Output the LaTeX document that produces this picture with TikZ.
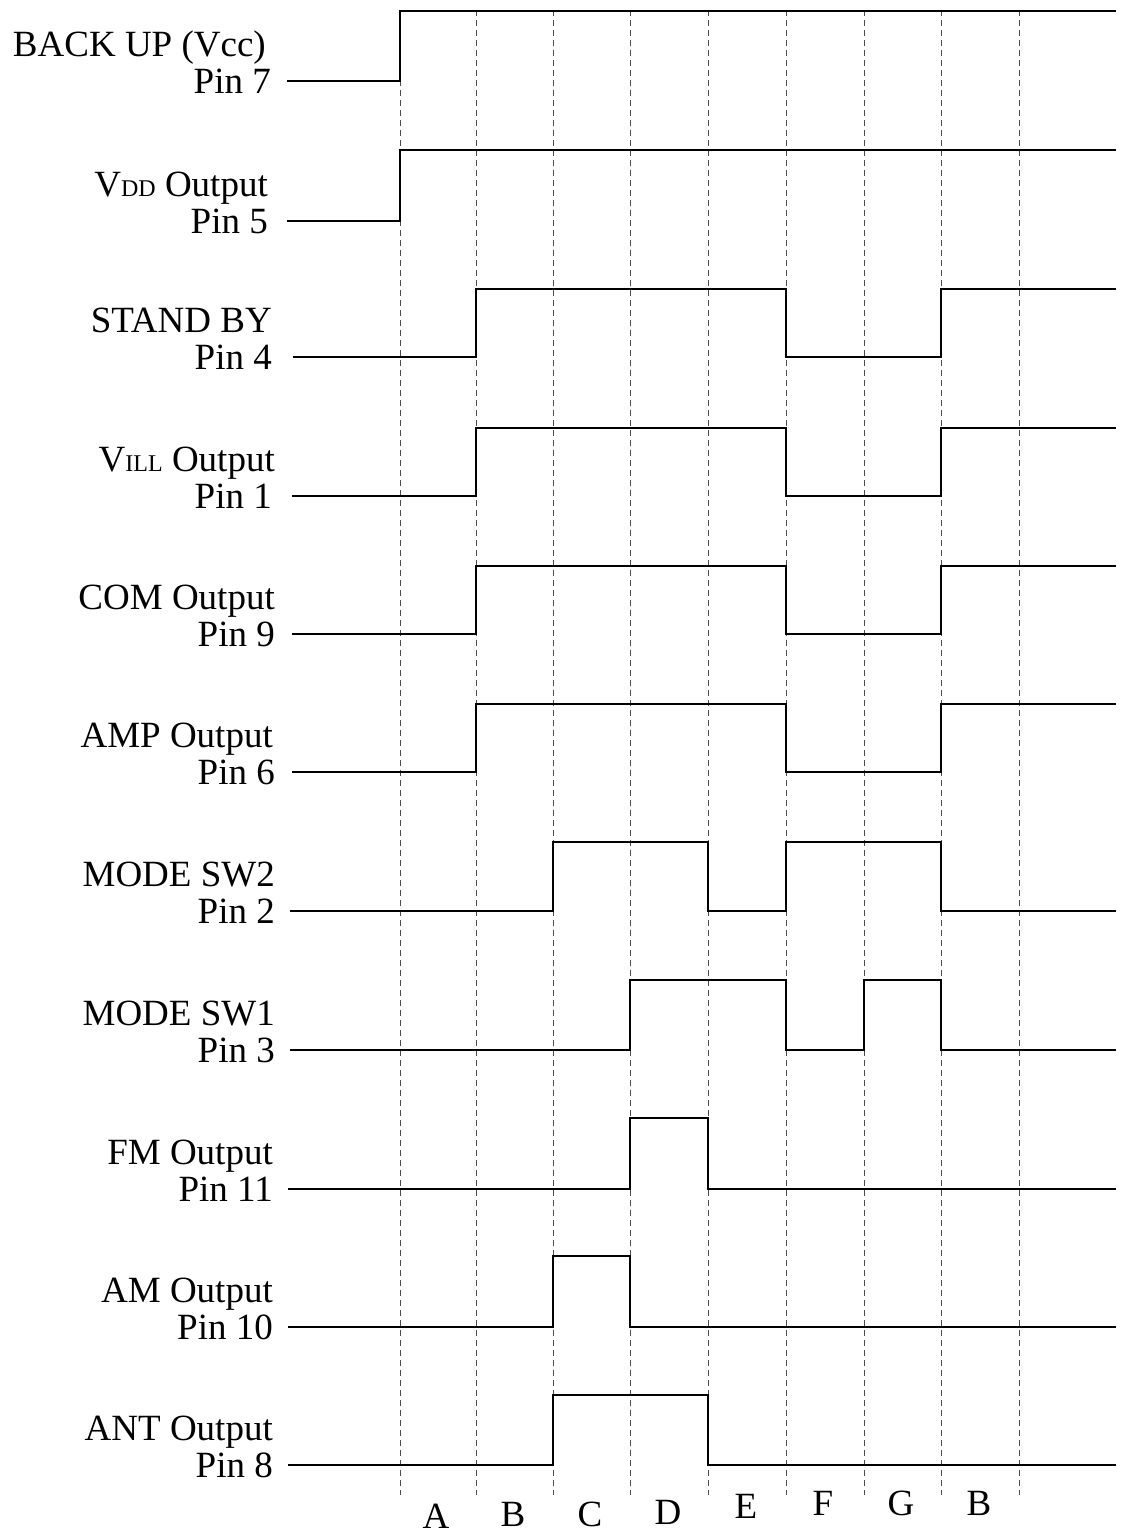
\documentclass[tikz,border=0pt]{standalone}
\usepackage{fontspec}
\setmainfont{Liberation Serif}
\begin{document}
\begin{tikzpicture}[x=1pt,y=-1pt,
  lbl/.style={anchor=base east,inner sep=0pt,font=\fontsize{37}{38}\selectfont},
  zone/.style={anchor=base,inner sep=0pt,font=\fontsize{37}{38}\selectfont},
  grid/.style={dashed,dash pattern=on 6pt off 4pt,line width=0.9pt,black!70},
  sig/.style={line width=2.4pt,line join=miter}]
\useasboundingbox (0,0) rectangle (1120,1539);
\newcommand{\sub}[1]{{\fontsize{24}{24}\selectfont #1}}
% dashed time markers
\foreach \xx/\nm in {400/g1,476/g2,553/g3,630/g4,708/g5,786/g6,864/g7,941/g8,1019/g9}{
  \coordinate (\nm t) at (\xx,10);
  \coordinate (\nm b) at (\xx,1495);
  \draw[grid] (\nm t) -- (\nm b);
}
% labels
\node[lbl] (l1a) at (266,56) {BACK UP (Vcc)};
\node[lbl] (l1b) at (271,93) {Pin 7};
\node[lbl] (l2a) at (268,196) {V\sub{DD} Output};
\node[lbl] (l2b) at (268,233) {Pin 5};
\node[lbl] (l3a) at (272,332) {STAND BY};
\node[lbl] (l3b) at (272,369) {Pin 4};
\node[lbl] (l4a) at (275,471) {V\sub{ILL} Output};
\node[lbl] (l4b) at (272,508) {Pin 1};
\node[lbl] (l5a) at (275,609) {COM Output};
\node[lbl] (l5b) at (275,646) {Pin 9};
\node[lbl] (l6a) at (273,747) {AMP Output};
\node[lbl] (l6b) at (275,784) {Pin 6};
\node[lbl] (l7a) at (275,886) {MODE SW2};
\node[lbl] (l7b) at (275,923) {Pin 2};
\node[lbl] (l8a) at (275,1025) {MODE SW1};
\node[lbl] (l8b) at (275,1062) {Pin 3};
\node[lbl] (l9a) at (273,1164) {FM Output};
\node[lbl] (l9b) at (273,1201) {Pin 11};
\node[lbl] (l10a) at (273,1302) {AM Output};
\node[lbl] (l10b) at (273,1339) {Pin 10};
\node[lbl] (l11a) at (273,1440) {ANT Output};
\node[lbl] (l11b) at (273,1477) {Pin 8};
% waveforms
\draw[sig] (287,81) -- (400,81) -- (400,11) -- (1116,11);
\draw[sig] (287,221) -- (400,221) -- (400,150) -- (1116,150);
\foreach \lo/\st in {357/293,496/292,634/292,772/292}{
  \draw[sig] (\st,\lo) -- (476,\lo) -- (476,\lo-68) -- (786,\lo-68) -- (786,\lo)
    -- (941,\lo) -- (941,\lo-68) -- (1116,\lo-68);
}
\draw[sig] (290,911) -- (553,911) -- (553,842) -- (708,842) -- (708,911) -- (786,911)
  -- (786,842) -- (941,842) -- (941,911) -- (1116,911);
\draw[sig] (290,1050) -- (630,1050) -- (630,980) -- (786,980) -- (786,1050) -- (864,1050)
  -- (864,980) -- (941,980) -- (941,1050) -- (1116,1050);
\draw[sig] (288,1189) -- (630,1189) -- (630,1118) -- (708,1118) -- (708,1189) -- (1116,1189);
\draw[sig] (288,1327) -- (553,1327) -- (553,1256) -- (630,1256) -- (630,1327) -- (1116,1327);
\draw[sig] (288,1465) -- (553,1465) -- (553,1395) -- (708,1395) -- (708,1465) -- (1116,1465);
% zone letters
\node[zone] (zA) at (436,1528) {A};
\node[zone] (zB1) at (513,1526) {B};
\node[zone] (zC) at (590,1526) {C};
\node[zone] (zD) at (668,1524) {D};
\node[zone] (zE) at (746,1518) {E};
\node[zone] (zF) at (823,1515) {F};
\node[zone] (zG) at (901,1515) {G};
\node[zone] (zB2) at (979,1515) {B};
\end{tikzpicture}
\end{document}
